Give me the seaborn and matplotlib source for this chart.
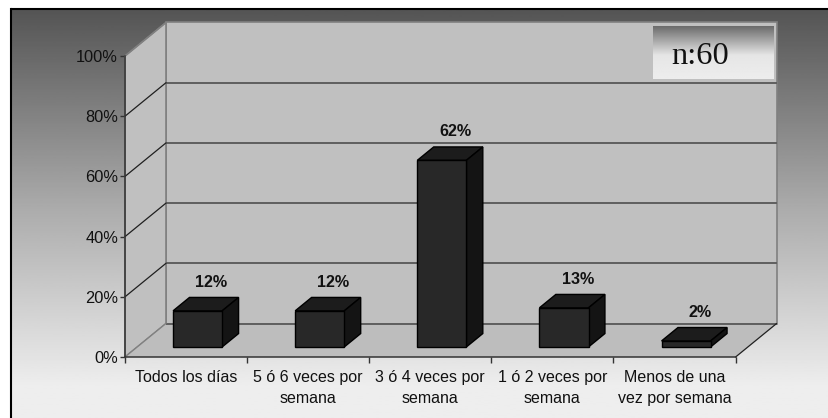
import numpy as np
import pandas as pd
import matplotlib
matplotlib.use("Agg")
import matplotlib.pyplot as plt
from matplotlib.patches import Polygon
import seaborn as sns

categories = [
    "Todos los días",
    "5 ó 6 veces por\nsemana",
    "3 ó 4 veces por\nsemana",
    "1 ó 2 veces por\nsemana",
    "Menos de una\nvez por semana",
]
percentages = [12, 12, 62, 13, 2]
percent_ticks = [0, 20, 40, 60, 80, 100]
sample_note = "n:60"

sns.set_theme(style="white")
plt.rcParams["font.family"] = ["Liberation Sans", "DejaVu Sans"]

W, H = 829, 418
fig = plt.figure(figsize=(W / 100, H / 100), dpi=100, facecolor="white")


def box(x0, y0, x1, y1):
    """Figure-fraction rectangle from pixel corners, y measured downward."""
    return [x0 / W, 1 - y1 / H, (x1 - x0) / W, (y1 - y0) / H]


# Panel with the vertical grey ramp and a thin black outline
bg = fig.add_axes(box(11.5, 8.5, 829, 418), zorder=0)
ramp = np.interp(np.linspace(0, 1, 256), [0, 0.5, 0.92, 1], [0.33, 0.68, 0.93, 0.93])
bg.imshow(ramp[:, None], cmap="gray", vmin=0, vmax=1, aspect="auto")
bg.set_xticks([])
bg.set_yticks([])
for side in ("right", "bottom"):
    bg.spines[side].set_visible(False)
for side in ("left", "top"):
    bg.spines[side].set_color("black")
    bg.spines[side].set_linewidth(1.5)

# The axes rectangle is the front plane of the oblique 3D box
ax = fig.add_axes(box(125, 56, 735.6, 357), zorder=1)
ax.patch.set_alpha(0)
frame = pd.DataFrame({"categoria": categories, "porcentaje": percentages})
sns.barplot(
    data=frame, x="categoria", y="porcentaje", ax=ax, width=0.402,
    color="#282828", saturation=1, edgecolor="black", linewidth=1.0, zorder=5,
)
ax.set_xlim(-0.5, 4.5)
ax.set_ylim(0, 100)

# Oblique depth expressed in data units
DX, DY = 41 / 122.12, 33.5 / 3.01
BAR_NEAR, BAR_FAR = 0.30, 0.70


def at_depth(x, y, d):
    return (x + d * DX, y + d * DY)


def face(points, color, edge=None, lw=0.0, z=1):
    ax.add_patch(Polygon(points, closed=True, facecolor=color, edgecolor=edge or color,
                         linewidth=lw, clip_on=False, zorder=z))


x0, x1 = -0.5, 4.5
wall = "#c0c0c0"
face([at_depth(x0, 0, 1), at_depth(x1, 0, 1), at_depth(x1, 100, 1), at_depth(x0, 100, 1)],
     wall, edge="#808080", lw=1.2)
face([at_depth(x0, 0, 0), at_depth(x0, 0, 1), at_depth(x0, 100, 1), at_depth(x0, 100, 0)],
     wall, edge="#808080", lw=1.2)
face([at_depth(x0, 0, 0), at_depth(x1, 0, 0), at_depth(x1, 0, 1), at_depth(x0, 0, 1)],
     "#bdbdbd")

# Gridlines run along the back wall and down the side wall
for t in percent_ticks:
    (bx, by), (fx, fy) = at_depth(x0, t, 1), at_depth(x0, t, 0)
    if t < 100:
        ax.plot([bx, at_depth(x1, t, 1)[0]], [by, by], color="#5f5f5f", lw=1.4,
                clip_on=False, zorder=2, solid_capstyle="butt")
    side_color = "#808080" if t in (0, 100) else "#202020"
    ax.plot([fx, bx], [fy, by], color=side_color, lw=0.9, clip_on=False, zorder=2)
ax.plot([x1, at_depth(x1, 0, 1)[0]], [0, DY], color="#202020", lw=0.9, clip_on=False, zorder=2)

# Bars: slide each front face into the box, then add its top and side faces
for patch, value in zip(ax.patches, percentages):
    left = patch.get_x() + BAR_NEAR * DX - 0.006
    base = BAR_NEAR * DY
    patch.set_x(left)
    patch.set_y(base)
    right = left + patch.get_width()
    step = BAR_FAR - BAR_NEAR
    ddx, ddy = step * DX, step * DY
    top = base + value
    face([(left, top), (right, top), (right + ddx, top + ddy), (left + ddx, top + ddy)],
         "#1c1c1c", edge="black", lw=1.0, z=4)
    face([(right, base), (right + ddx, base + ddy), (right + ddx, top + ddy), (right, top)],
         "#141414", edge="black", lw=1.0, z=4)
    ax.annotate(f"{value}%", ((left + right) / 2 + ddx / 2 + 0.045, top + ddy), xytext=(0, 15),
                textcoords="offset pixels", ha="center", va="center",
                fontsize=11.6, fontweight="bold", color="#111111", zorder=6)

# Axis lines, ticks and labels on the front plane
sns.despine(ax=ax, top=True, right=True)
for side in ("left", "bottom"):
    ax.spines[side].set_color("#333333")
    ax.spines[side].set_linewidth(1.1)
    ax.spines[side].set_zorder(3)
ax.set_xlabel("")
ax.set_ylabel("")
ax.set_yticks(percent_ticks)
ax.set_yticklabels([f"{t}%" for t in percent_ticks])
ax.tick_params(axis="y", length=3.5, width=1.0, color="#333333", pad=1.5,
               labelsize=11.8, labelcolor="#111111", left=True)
ax.set_xticks(np.arange(-0.5, 5, 1), minor=True)
ax.tick_params(axis="x", which="minor", length=4.5, width=1.0, color="#333333", bottom=True)
ax.tick_params(axis="x", which="major", length=0, pad=9.2, labelsize=11.5, labelcolor="#111111")
for lab in ax.get_xticklabels():
    lab.set_linespacing(1.56)

# Sample-size note with its own grey ramp
note = fig.add_axes(box(653, 26, 774, 79), zorder=2)
note_ramp = np.interp(np.linspace(0, 1, 128), [0, 0.55, 1], [0.42, 0.9, 0.93])
note.imshow(note_ramp[:, None], cmap="gray", vmin=0, vmax=1, aspect="auto", extent=(0, 1, 0, 1))
note.axis("off")
note.text(0.39, 0.43, sample_note, transform=note.transAxes, ha="center", va="center",
          fontsize=23.4, family="Liberation Serif", color="#111111")

fig.savefig("out.png", dpi=100, facecolor="white")
